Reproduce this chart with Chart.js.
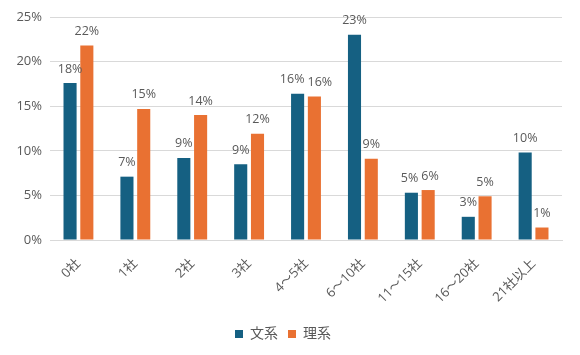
<!DOCTYPE html>
<html>
<head>
<meta charset="utf-8">
<script src="https://cdn.jsdelivr.net/npm/chart.js@4/dist/chart.umd.min.js"></script>
<style>
  html, body { margin: 0; padding: 0; background: #ffffff; }
  #wrap { width: 580px; height: 355px; position: relative; }
</style>
</head>
<body>
<div id="wrap"><canvas id="c" width="580" height="355"></canvas></div>
<script>
const categories = ["0社", "1社", "2社", "3社", "4～5社", "6～10社", "11～15社", "16～20社", "21社以上"];
const seriesNames = ["文系", "理系"];
const bunkei = [17.6, 7.1, 9.2, 8.5, 16.4, 23.0, 5.3, 2.6, 9.8];
const rikei = [21.8, 14.7, 14.0, 11.9, 16.1, 9.1, 5.6, 4.9, 1.4];
const yTicks = [0, 5, 10, 15, 20, 25];

const FONT = "'Open Sans', 'Noto Sans CJK JP', sans-serif";
const TEXT = "#595959";

const labelPlugin = {
  id: 'barLabels',
  afterDatasetsDraw(chart) {
    const ctx = chart.ctx;
    ctx.save();
    ctx.font = "12.5px " + FONT;
    ctx.fillStyle = TEXT;
    ctx.textAlign = 'center';
    ctx.textBaseline = 'middle';
    const m0 = chart.getDatasetMeta(0), m1 = chart.getDatasetMeta(1);
    const d0 = chart.data.datasets[0].data, d1 = chart.data.datasets[1].data;
    m0.data.forEach((b0, i) => {
      const b1 = m1.data[i];
      const t0 = Math.round(d0[i]) + '%', t1 = Math.round(d1[i]) + '%';
      let x0 = b0.x, x1 = b1.x;
      const y0 = b0.y - 14, y1 = b1.y - 14;
      const w0 = ctx.measureText(t0).width, w1 = ctx.measureText(t1).width;
      const overlap = (x0 + w0 / 2 + 3) - (x1 - w1 / 2);
      if (Math.abs(y0 - y1) < 14 && overlap > 0) {
        x0 -= overlap / 2;
        x1 += overlap / 2;
      }
      ctx.fillText(t0, x0, y0);
      ctx.fillText(t1, x1, y1);
    });
    ctx.restore();
  }
};

new Chart(document.getElementById('c'), {
  type: 'bar',
  data: {
    labels: categories,
    datasets: [
      { label: seriesNames[0], data: bunkei, backgroundColor: '#156082', categoryPercentage: 0.59, barPercentage: 0.78 },
      { label: seriesNames[1], data: rikei, backgroundColor: '#E97132', categoryPercentage: 0.59, barPercentage: 0.78 }
    ]
  },
  options: {
    responsive: false,
    animation: false,
    devicePixelRatio: 1,
    layout: { padding: { left: 4, right: 18, top: 17, bottom: 4 } },
    plugins: {
      legend: {
        position: 'bottom',
        labels: {
          font: { family: FONT, size: 14 },
          color: TEXT,
          boxWidth: 8,
          boxHeight: 8,
          padding: 10
        }
      },
      tooltip: { enabled: false }
    },
    scales: {
      y: {
        min: 0,
        max: 25,
        afterBuildTicks(scale) { scale.ticks = yTicks.map(v => ({ value: v })); },
        afterFit(scale) { scale.width = 46; },
        ticks: {
          color: TEXT,
          font: { family: FONT, size: 13 },
          padding: 8,
          callback: v => v + '%'
        },
        grid: { color: '#d9d9d9', drawTicks: false },
        border: { display: false }
      },
      x: {
        afterFit(scale) { scale.height = 77; },
        ticks: {
          color: TEXT,
          font: { family: FONT, size: 13 },
          minRotation: 45,
          maxRotation: 45,
          padding: 16
        },
        grid: { display: false, drawTicks: false },
        border: { display: true, color: '#d9d9d9' }
      }
    }
  },
  plugins: [labelPlugin]
});
</script>
</body>
</html>
